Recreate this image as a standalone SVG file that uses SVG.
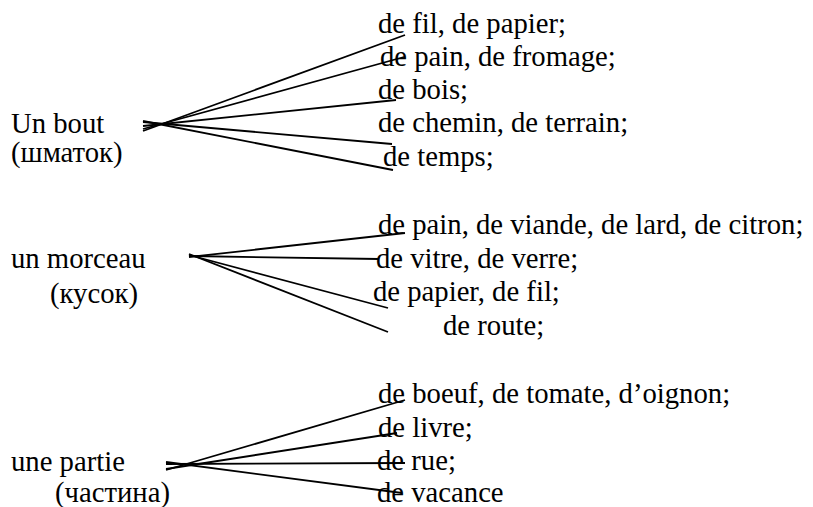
<svg xmlns="http://www.w3.org/2000/svg" width="813" height="507" viewBox="0 0 813 507">
<style>
.c line{stroke:#000;stroke-width:1.8;fill:none}
text{font-family:"Liberation Serif","Times New Roman",Times,"Noto Serif","DejaVu Serif",serif;font-size:28.7px;fill:#000}
</style>
<rect width="813" height="507" fill="#fff"/>
<g id="connectors" class="c">
<line x1="143" y1="131" x2="405" y2="35"/>
<line x1="143" y1="129" x2="404" y2="57"/>
<line x1="143" y1="126" x2="396" y2="100"/>
<line x1="143" y1="122" x2="392" y2="144"/>
<line x1="143" y1="121" x2="393" y2="170"/>
<line x1="189" y1="257" x2="405" y2="233"/>
<line x1="189" y1="256" x2="379" y2="259"/>
<line x1="189" y1="255" x2="388" y2="308"/>
<line x1="189" y1="254" x2="388" y2="332"/>
<line x1="166" y1="470" x2="405" y2="400"/>
<line x1="166" y1="469" x2="397" y2="433"/>
<line x1="166" y1="464" x2="405" y2="463"/>
<line x1="166" y1="462" x2="402" y2="493"/>
</g>
<g id="n-bout">
<text x="11" y="133">Un bout</text>
<text x="11" y="162">(шматок)</text>
</g>
<g id="n-bout-items">
<text x="378" y="33">de fil, de papier;</text>
<text x="380" y="66">de pain, de fromage;</text>
<text x="378" y="99">de bois;</text>
<text x="378" y="132">de chemin, de terrain;</text>
<text x="383" y="166">de temps;</text>
</g>
<g id="n-morceau">
<text x="11" y="268">un morceau</text>
<text x="50" y="303">(кусок)</text>
</g>
<g id="n-morceau-items">
<text x="378" y="234">de pain, de viande, de lard, de citron;</text>
<text x="376" y="268">de vitre, de verre;</text>
<text x="373" y="301">de papier, de fil;</text>
<text x="443" y="335">de route;</text>
</g>
<g id="n-partie">
<text x="11" y="471">une partie</text>
<text x="55" y="502">(частина)</text>
</g>
<g id="n-partie-items">
<text x="378" y="403">de boeuf, de tomate, d’oignon;</text>
<text x="378" y="437">de livre;</text>
<text x="377" y="470">de rue;</text>
<text x="377" y="502">de vacance</text>
</g>
</svg>
